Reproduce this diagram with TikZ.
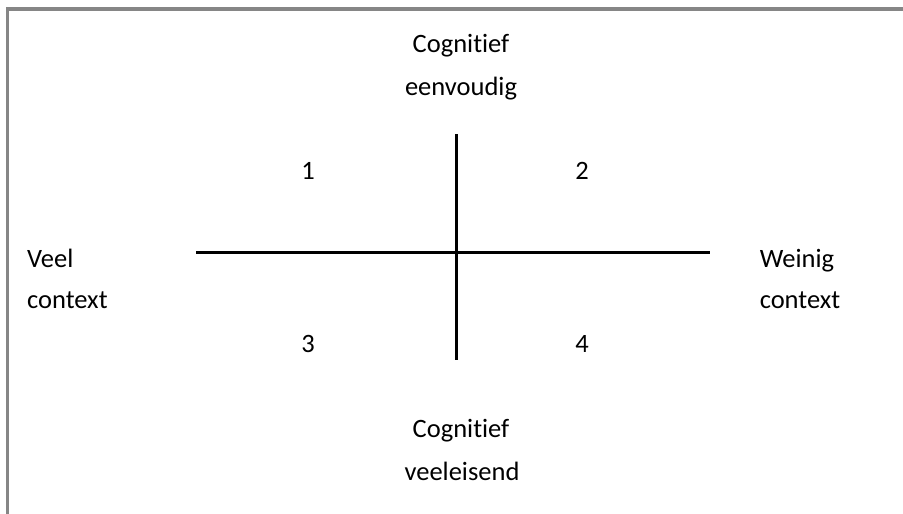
\documentclass[tikz,border=0pt]{standalone}
\usepackage{fontspec}
\setmainfont[Ligatures={NoCommon,NoRare}]{Carlito}
\definecolor{framegray}{HTML}{868686}
\begin{document}
\begin{tikzpicture}[x=1pt,y=-1pt,
  lbl/.style={inner sep=0pt,font=\fontsize{26.5}{30}\selectfont,anchor=base},
  lblw/.style={lbl,anchor=base west},
  axisline/.style={line width=3pt,black},
  frameline/.style={line width=3.5pt,framegray}]
\useasboundingbox (0,0) rectangle (903,514);
\fill[white] (0,0) rectangle (903,514);
% frame
\coordinate (fl) at (7.3,514);
\coordinate (fc) at (7.3,9);
\coordinate (fr) at (903,9);
\draw[frameline] (fl) -- (fc) -- (fr);
% axes
\coordinate (hl) at (196,252.5);
\coordinate (hr) at (710,252.5);
\coordinate (vt) at (456.5,134);
\coordinate (vb) at (456.5,360);
\draw[axisline] (hl) -- (hr);
\draw[axisline] (vt) -- (vb);
% labels
\node[lbl] (top1) at (461,52) {Cognit\kern0pt ief};
\node[lbl] (top2) at (461,95) {eenvoudig};
\node[lbl] (bot1) at (461,437) {Cognit\kern0pt ief};
\node[lbl] (bot2) at (462,480) {veeleisend};
\node[lblw] (left1) at (27,267) {Veel};
\node[lblw] (left2) at (27,308) {context};
\node[lbl] (right1) at (797,267) {Weinig};
\node[lbl] (right2) at (800,308) {context};
\node[lbl] (q1) at (308,179) {1};
\node[lbl] (q2) at (582,179) {2};
\node[lbl] (q3) at (308,352) {3};
\node[lbl] (q4) at (582,352) {4};
\end{tikzpicture}
\end{document}
